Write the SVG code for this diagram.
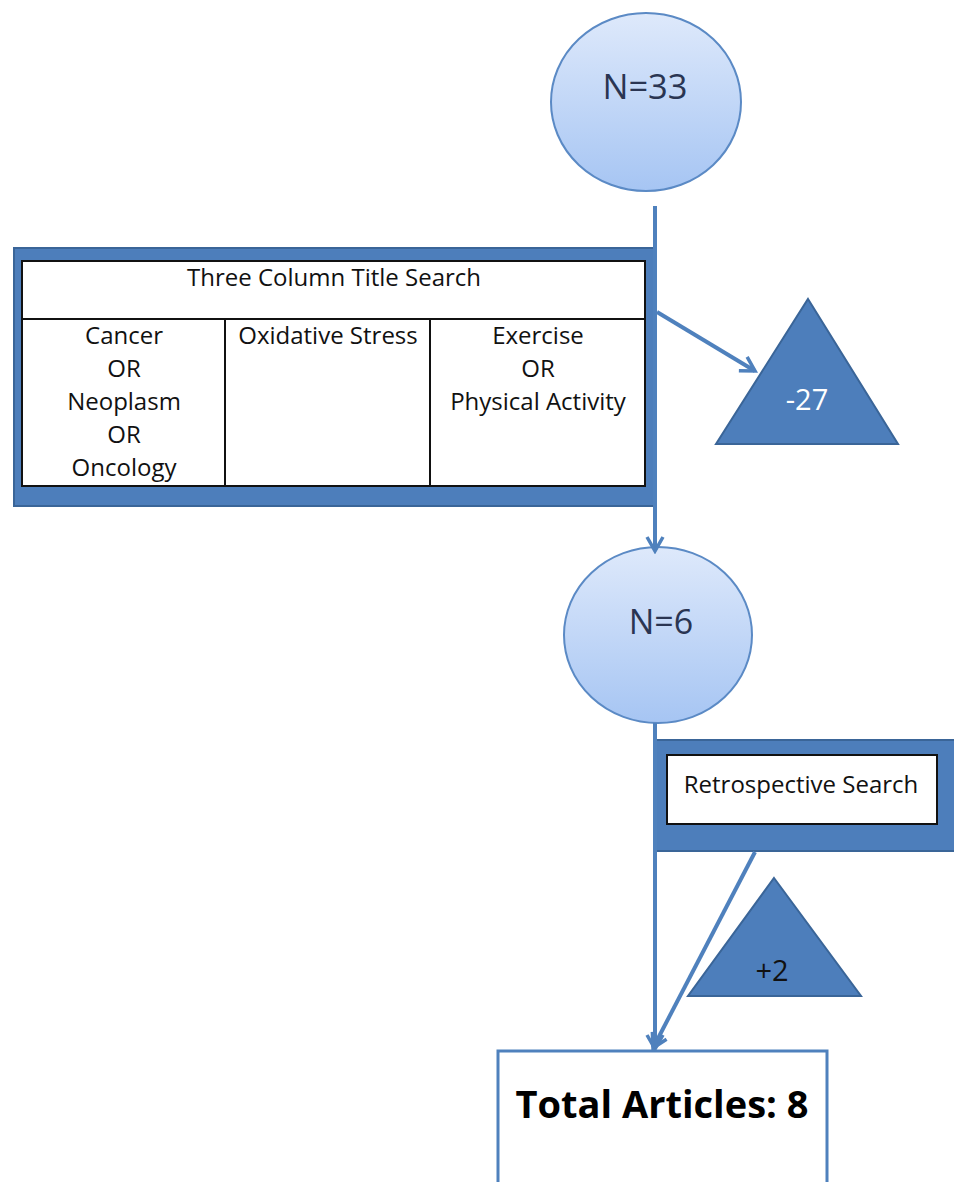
<svg xmlns="http://www.w3.org/2000/svg" width="954" height="1182" viewBox="0 0 954 1182">
<defs>
<linearGradient id="cg" x1="0" y1="0" x2="0" y2="1">
<stop offset="0" stop-color="#dee9fb"/>
<stop offset="1" stop-color="#a6c5f3"/>
</linearGradient>
<marker id="ah" markerWidth="20" markerHeight="20" viewBox="0 0 20 20" refX="17" refY="10" orient="auto" markerUnits="userSpaceOnUse">
<path d="M3,2 L17,10 L3,18" fill="none" stroke="#4f81bd" stroke-width="3.5"/>
</marker>
</defs>
<style>
.t{font-family:"Open Sans","Liberation Sans",sans-serif;text-anchor:middle;}
.cell{font-size:24px;fill:#111;}
.circ{fill:url(#cg);stroke:#5b8ac5;stroke-width:2;}
.band{fill:#4d7ebb;stroke:#3a6598;stroke-width:2;}
.tri{fill:#4d7ebb;stroke:#3a6598;stroke-width:2;}
.tbl{fill:#fff;stroke:#111;stroke-width:2;}
.con{fill:none;stroke:#4f81bd;stroke-width:4;}
</style>
<g id="n33">
<ellipse class="circ" cx="646" cy="102" rx="95" ry="89"/>
<text class="t" x="645" y="99" font-size="34.5" fill="#2a3552">N=33</text>
</g>
<g id="titlesearch">
<rect class="band" x="14" y="248" width="640" height="258"/>
<rect class="tbl" x="22" y="261" width="623" height="225"/>
<line x1="22" y1="319" x2="645" y2="319" stroke="#111" stroke-width="2"/>
<line x1="225" y1="319" x2="225" y2="486" stroke="#111" stroke-width="2"/>
<line x1="430" y1="319" x2="430" y2="486" stroke="#111" stroke-width="2"/>
<text class="t cell" x="334" y="286">Three Column Title Search</text>
<text class="t cell" x="124" y="344">Cancer</text>
<text class="t cell" x="124" y="377">OR</text>
<text class="t cell" x="124" y="410">Neoplasm</text>
<text class="t cell" x="124" y="443">OR</text>
<text class="t cell" x="124" y="476">Oncology</text>
<text class="t cell" x="328" y="344">Oxidative Stress</text>
<text class="t cell" x="538" y="344">Exercise</text>
<text class="t cell" x="538" y="377">OR</text>
<text class="t cell" x="538" y="410">Physical Activity</text>
</g>
<g id="minus27">
<polygon class="tri" points="808,299 898,444 716,444"/>
<text class="t" x="807" y="410" font-size="29" fill="#fff">-27</text>
</g>
<g id="n6">
<ellipse class="circ" cx="658" cy="635" rx="94" ry="88"/>
<text class="t" x="661" y="634" font-size="34" fill="#2a3552">N=6</text>
</g>
<g id="retro">
<rect class="band" x="654" y="740" width="302" height="111"/>
<rect class="tbl" x="667" y="755" width="270" height="69"/>
<text class="t cell" x="801" y="793">Retrospective Search</text>
</g>
<g id="plus2">
<polygon class="tri" points="774,878 861,996 688,996"/>
<text class="t" x="772" y="981" font-size="29" fill="#111">+2</text>
</g>
<g id="total">
<rect x="498" y="1051" width="329" height="140" fill="#fff" stroke="#4f81bd" stroke-width="3"/>
<text class="t" x="662" y="1118" font-size="38" font-weight="bold" fill="#000">Total Articles: 8</text>
</g>
<g id="connectors">
<line class="con" x1="655" y1="206" x2="655" y2="551" marker-end="url(#ah)"/>
<line class="con" x1="657" y1="312" x2="755" y2="371" marker-end="url(#ah)"/>
<line class="con" x1="655" y1="723" x2="655" y2="1049" marker-end="url(#ah)"/>
<line class="con" x1="755" y1="852" x2="653" y2="1048" marker-end="url(#ah)"/>
</g>
</svg>
